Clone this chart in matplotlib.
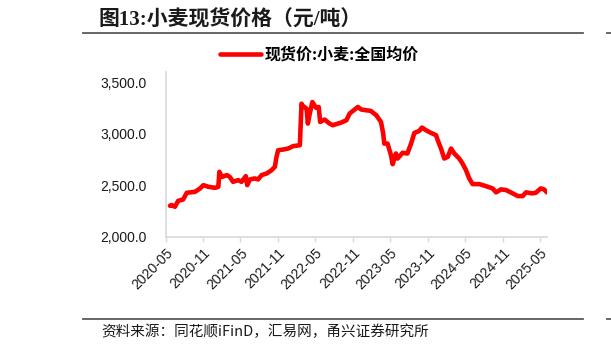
import matplotlib
matplotlib.use('Agg')

from matplotlib import pyplot as plt
from matplotlib.lines import Line2D
import matplotlib.dates as mdates
from matplotlib.ticker import FuncFormatter
import pandas as pd

plt.rcParams['font.family'] = ['Liberation Sans', 'Noto Sans CJK SC', 'DejaVu Sans']

# 现货价:小麦:全国均价 (元/吨)
dates = [
    "2020-05-22", "2020-05-30", "2020-06-15", "2020-07-01", "2020-07-25",
    "2020-08-12", "2020-09-21", "2020-10-16", "2020-11-01", "2020-11-25",
    "2020-12-28", "2021-01-13", "2021-01-18", "2021-01-30", "2021-02-24",
    "2021-03-10", "2021-03-26", "2021-04-20", "2021-05-06", "2021-05-27",
    "2021-06-03", "2021-06-16", "2021-07-10", "2021-07-26", "2021-08-12",
    "2021-09-06", "2021-09-30", "2021-10-16", "2021-10-24", "2021-11-01",
    "2021-11-25", "2021-12-20", "2022-01-13", "2022-02-15", "2022-02-23",
    "2022-03-01", "2022-03-20", "2022-03-26", "2022-04-05", "2022-04-17",
    "2022-05-05", "2022-05-18", "2022-05-25", "2022-06-16", "2022-07-10",
    "2022-07-26", "2022-09-05", "2022-09-30", "2022-10-16", "2022-11-25",
    "2022-12-12", "2023-01-27", "2023-02-23", "2023-03-18", "2023-03-29",
    "2023-04-03", "2023-04-19", "2023-05-06", "2023-05-14", "2023-05-30",
    "2023-06-07", "2023-07-01", "2023-07-25", "2023-08-12", "2023-08-28",
    "2023-09-21", "2023-10-04", "2023-10-24", "2023-11-18", "2023-12-12",
    "2023-12-20", "2024-01-05", "2024-01-21", "2024-02-07", "2024-02-23",
    "2024-03-10", "2024-04-03", "2024-04-19", "2024-05-06", "2024-05-22",
    "2024-06-07", "2024-07-10", "2024-08-12", "2024-09-13", "2024-09-30",
    "2024-10-24", "2024-11-18", "2024-12-20", "2025-01-14", "2025-02-07",
    "2025-02-23", "2025-03-26", "2025-04-12", "2025-05-06", "2025-05-22",
    "2025-06-05",
]
prices = [
    2300, 2307, 2290, 2348, 2361,
    2426, 2435, 2468, 2500, 2484,
    2474, 2484, 2629, 2580, 2597,
    2580, 2532, 2549, 2532, 2587,
    2500, 2555, 2565, 2555, 2597,
    2613, 2645, 2677, 2774, 2839,
    2845, 2855, 2878, 2887, 3290,
    3270, 3240, 3097, 3200, 3306,
    3250, 3258, 3113, 3136, 3097,
    3081, 3107, 3129, 3194, 3258,
    3233, 3220, 3178, 3113, 3000,
    2903, 2903, 2790, 2703, 2807,
    2758, 2813, 2807, 2903, 3006,
    3026, 3058, 3032, 3006, 2984,
    2936, 2855, 2758, 2774, 2855,
    2807, 2758, 2710, 2645, 2565,
    2510, 2510, 2490, 2468, 2430,
    2459, 2452, 2420, 2394, 2394,
    2430, 2420, 2426, 2468, 2459,
    2430,
]
series_name = "现货价:小麦:全国均价"
title = "图13:小麦现货价格（元/吨）"
source = "资料来源：同花顺iFinD，汇易网，甬兴证券研究所"

W, H = 611, 351
fig = plt.figure(figsize=(W / 100, H / 100), dpi=100)
ax = fig.add_axes([165.7 / W, 1 - 236.7 / H, (547.3 - 165.7) / W, (236.7 - 71.7) / H])

x = pd.to_datetime(dates)
ax.plot(x, prices, color='#ff0000', lw=3.3, solid_joinstyle='round', solid_capstyle='round')

ax.set_xlim(pd.Timestamp("2020-05-01"), pd.Timestamp("2025-06-07"))
ax.set_ylim(2000, 3600)
ax.set_yticks([2000, 2500, 3000, 3500])
ax.yaxis.set_major_formatter(FuncFormatter(lambda v, p: f"{v:,.1f}"))
ax.xaxis.set_major_locator(mdates.MonthLocator(bymonth=[5, 11]))
ax.xaxis.set_major_formatter(mdates.DateFormatter('%Y-%m'))

for s in ['top', 'right']:
    ax.spines[s].set_visible(False)
for s in ['left', 'bottom']:
    ax.spines[s].set_color('#d9d9d9')
    ax.spines[s].set_linewidth(1.2)

ax.tick_params(axis='y', length=0, pad=14, labelsize=10, labelcolor='#1a1a1a')
ax.tick_params(axis='x', length=3.5, width=1, color='#d9d9d9', pad=3, labelsize=10, labelcolor='#1a1a1a')
for lbl in ax.get_xticklabels():
    lbl.set_rotation(45)
    lbl.set_ha('right')
    lbl.set_rotation_mode('anchor')

# legend above plot
handle = Line2D([], [], color='#ff0000', lw=3.3, solid_capstyle='round')
fig.legend([handle], [series_name], loc='center left', bbox_to_anchor=(219.5 / W, 1 - 55 / H),
           frameon=False, borderpad=0, borderaxespad=0, handlelength=2.6, handletextpad=0.25,
           prop={'family': ['Noto Sans CJK SC'], 'weight': 'bold', 'size': 11.5})

# title, rules and source line
fig.text(98 / W, 1 - 20 / H, title, ha='left', va='center', fontsize=15, fontweight='bold',
         family=['Liberation Serif', 'Noto Sans CJK SC'], color='#1a1a1a')
for yy in [33.3, 319]:
    fig.add_artist(Line2D([83.3 / W, 583.3 / W], [1 - yy / H, 1 - yy / H], color='#595959', lw=1.3))
    fig.add_artist(Line2D([606.7 / W, 1.0], [1 - yy / H, 1 - yy / H], color='#595959', lw=1.3))
fig.text(101.7 / W, 1 - 332 / H, source, ha='left', va='center', fontsize=10.5,
         family=['Noto Sans CJK SC'], style='italic', color='#1a1a1a')

plt.savefig('out.png', dpi=100)
